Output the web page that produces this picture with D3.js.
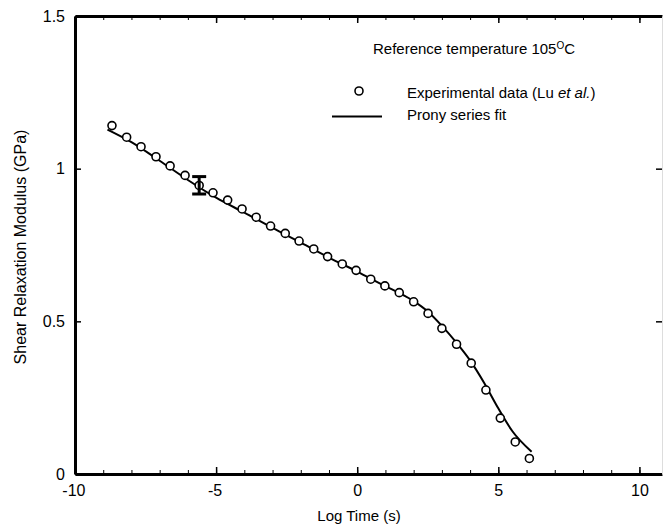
<!DOCTYPE html>
<html lang="en">
<head>
    <meta charset="UTF-8">
    <script src="https://cdn.jsdelivr.net/npm/d3@7"></script>
    <title>Shear relaxation modulus</title>
    <style>
        body { margin: 0; background: #fff; }
        text { font-family: "Liberation Sans", Arial, Helvetica, sans-serif; fill: #000; }
    </style>
</head>
<body>
    <svg></svg>
    <script>
        // experimental points (Lu et al.)
        const logTime = [-8.69, -8.17, -7.66, -7.13, -6.63, -6.10, -5.60, -5.11, -4.59, -4.08,
                         -3.58, -3.07, -2.55, -2.06, -1.54, -1.05, -0.53, -0.04, 0.48, 0.98,
                         1.49, 2.00, 2.51, 3.00, 3.52, 4.04, 4.56, 5.07, 5.60, 6.10];
        const modulus = [1.141, 1.103, 1.072, 1.039, 1.009, 0.978, 0.945, 0.921, 0.897, 0.868,
                         0.841, 0.812, 0.788, 0.763, 0.737, 0.712, 0.688, 0.667, 0.638, 0.616,
                         0.594, 0.564, 0.526, 0.477, 0.425, 0.363, 0.275, 0.183, 0.105, 0.051];

        // prony series fit
        const fitTime = [-8.85, -8, -7, -6, -5, -4, -3, -2, -1, 0, 1, 1.5, 2, 2.5, 3, 3.5, 4, 4.5, 5, 5.5, 6.18];
        const fitModulus = [1.128, 1.087, 1.026, 0.963, 0.905, 0.856, 0.806, 0.758, 0.709, 0.663,
                            0.615, 0.592, 0.566, 0.532, 0.485, 0.432, 0.372, 0.298, 0.215, 0.14, 0.073];

        // error bar
        const errTime = [-5.6];
        const errLow = [0.917];
        const errHigh = [0.974];

        const xTicks = [-10, -5, 0, 5, 10];
        const xMinor = d3.range(-10, 11, 1);
        const yTicks = [0, 0.5, 1, 1.5];

        let svg = d3.select('svg')
            .attr('width', 665)
            .attr('height', 532);

        const x = d3.scaleLinear().domain([-10, 10.8]).range([75, 662]);
        const y = d3.scaleLinear().domain([0, 1.5]).range([474, 16]);

        // minor ticks top/bottom
        svg.append('g').attr('transform', 'translate(0,474)')
            .call(d3.axisBottom(x).tickValues(xMinor).tickSize(-4).tickSizeOuter(0).tickFormat(''))
            .call(g => g.select('.domain').remove());
        svg.append('g').attr('transform', 'translate(0,16)')
            .call(d3.axisTop(x).tickValues(xMinor).tickSize(-4).tickSizeOuter(0).tickFormat(''))
            .call(g => g.select('.domain').remove());

        // bottom axis (plain hyphen for negatives)
        let xAxis = svg.append('g').attr('transform', 'translate(0,474)')
            .call(d3.axisBottom(x).tickValues(xTicks).tickSize(-7).tickSizeOuter(0).tickPadding(11)
                .tickFormat(d => String(d)));
        xAxis.select('.domain').attr('stroke-width', 3);
        xAxis.selectAll('line').attr('stroke-width', 1.5);
        xAxis.selectAll('text').style('font-size', '16px').attr('fill', '#000')
            .attr('dx', d => d < 0 ? '-0.1em' : 0);

        // top axis
        let topAxis = svg.append('g').attr('transform', 'translate(0,16)')
            .call(d3.axisTop(x).tickValues(xTicks).tickSize(-7).tickSizeOuter(0).tickFormat(''));
        topAxis.select('.domain').attr('stroke-width', 3);
        topAxis.selectAll('line').attr('stroke-width', 1.5);

        // left axis
        let yAxis = svg.append('g').attr('transform', 'translate(75,0)')
            .call(d3.axisLeft(y).tickValues(yTicks).tickSize(-6).tickSizeOuter(0).tickPadding(10)
                .tickFormat(d => String(d)));
        yAxis.select('.domain').attr('stroke-width', 3);
        yAxis.selectAll('line').attr('stroke-width', 1.5);
        yAxis.selectAll('text').style('font-size', '16px').attr('fill', '#000');

        // right axis (faint)
        let rightAxis = svg.append('g').attr('transform', 'translate(662,0)')
            .call(d3.axisRight(y).tickValues(yTicks).tickSize(-6).tickSizeOuter(0).tickFormat(''));
        rightAxis.select('.domain').attr('stroke', '#ddd').attr('stroke-width', 1);
        rightAxis.selectAll('line').attr('stroke-width', 1.5);

        // fit line
        const line = d3.line()
            .x((d, i) => x(fitTime[i]))
            .y(d => y(d))
            .curve(d3.curveMonotoneX);
        svg.append('path')
            .attr('d', line(fitModulus))
            .attr('fill', 'none')
            .attr('stroke', '#000')
            .attr('stroke-width', 2);

        // data circles
        svg.append('g')
            .selectAll('circle')
            .data(modulus)
            .enter()
            .append('circle')
            .attr('cx', (d, i) => x(logTime[i]))
            .attr('cy', d => y(d))
            .attr('r', 4)
            .attr('fill', '#fff')
            .attr('stroke', '#000')
            .attr('stroke-width', 1.6);

        // error bar
        let eb = svg.append('g').selectAll('g').data(errTime).enter().append('g');
        eb.append('line')
            .attr('x1', d => x(d)).attr('x2', d => x(d))
            .attr('y1', (d, i) => y(errLow[i])).attr('y2', (d, i) => y(errHigh[i]))
            .attr('stroke', '#000').attr('stroke-width', 3);
        [errLow, errHigh].forEach(arr => {
            eb.append('line')
                .attr('x1', d => x(d) - 7).attr('x2', d => x(d) + 7)
                .attr('y1', (d, i) => y(arr[i])).attr('y2', (d, i) => y(arr[i]))
                .attr('stroke', '#000').attr('stroke-width', 3);
        });

        // legend
        let ref = svg.append('text').attr('x', 373).attr('y', 54).style('font-size', '15px');
        ref.append('tspan').text('Reference temperature 105');
        ref.append('tspan').text('O').style('font-size', '10px').attr('dy', -5);
        ref.append('tspan').text('C').attr('dy', 5);

        svg.append('circle').attr('cx', 359).attr('cy', 91).attr('r', 4)
            .attr('fill', '#fff').attr('stroke', '#000').attr('stroke-width', 1.6);
        let exp = svg.append('text').attr('x', 407).attr('y', 98).style('font-size', '15px');
        exp.append('tspan').text('Experimental data (Lu ');
        exp.append('tspan').text('et al.').style('font-style', 'italic');
        exp.append('tspan').text(')');

        svg.append('line').attr('x1', 332).attr('x2', 382).attr('y1', 116.5).attr('y2', 116.5)
            .attr('stroke', '#000').attr('stroke-width', 2);
        svg.append('text').attr('x', 407).attr('y', 120).style('font-size', '15px')
            .text('Prony series fit');

        // axis titles
        svg.append('text')
            .attr('transform', 'translate(26,247) rotate(-90)')
            .attr('text-anchor', 'middle')
            .style('font-size', '16px')
            .text('Shear Relaxation Modulus (GPa)');
        svg.append('text')
            .attr('x', 359).attr('y', 521)
            .attr('text-anchor', 'middle')
            .style('font-size', '15px')
            .text('Log Time (s)');
    </script>
</body>
</html>
